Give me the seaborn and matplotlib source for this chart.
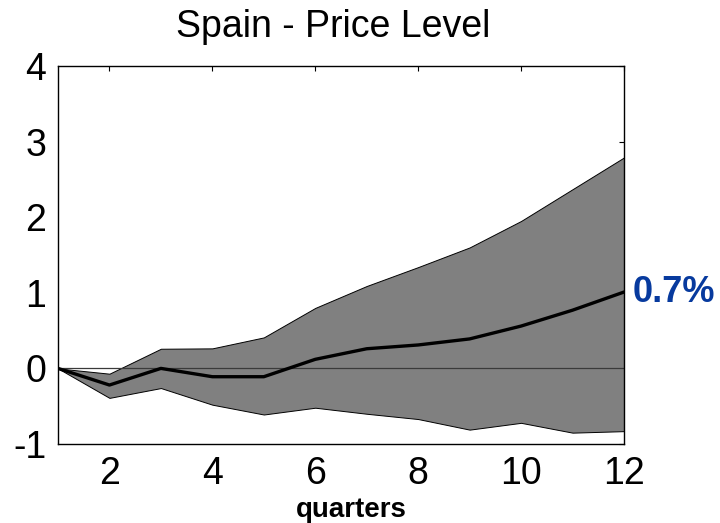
import matplotlib
matplotlib.use("Agg")
import matplotlib.pyplot as plt
import numpy as np
import pandas as pd
import seaborn as sns

# Impulse response of the Spanish price level, in percent, over 12 quarters
quarters = [1, 2, 3, 4, 5, 6, 7, 8, 9, 10, 11, 12]
median = [0.0, -0.22, 0.0, -0.11, -0.11, 0.12, 0.26, 0.31, 0.39, 0.56, 0.77, 1.01]
upper = [0.0, -0.07, 0.26, 0.265, 0.41, 0.80, 1.09, 1.34, 1.60, 1.95, 2.37, 2.79]
lower = [0.0, -0.39, -0.26, -0.48, -0.61, -0.52, -0.60, -0.67, -0.81, -0.72, -0.85, -0.83]

title_text = "Spain - Price Level"
xlabel_text = "quarters"
end_label = "0.7%"
xticks = [2, 4, 6, 8, 10, 12]
yticks = [-1, 0, 1, 2, 3, 4]

df = pd.DataFrame({"quarter": quarters, "median": median,
                   "upper": upper, "lower": lower})

sns.set_style("white")
plt.rcParams["font.family"] = ["Liberation Sans", "DejaVu Sans"]
plt.rcParams["axes.unicode_minus"] = False
plt.rcParams["text.color"] = "black"
plt.rcParams["axes.labelcolor"] = "black"

fig = plt.figure(figsize=(7.2, 5.23), dpi=100)
ax = fig.add_axes([58 / 720, 1 - 444 / 523, (624 - 58) / 720, (444 - 66) / 523])

ax.fill_between(df["quarter"], df["lower"], df["upper"],
                facecolor="#808080", edgecolor="black", linewidth=0.7, zorder=1)
ax.axhline(0, color="#3a3a3a", linewidth=0.9, zorder=2)
sns.lineplot(data=df, x="quarter", y="median", color="black",
             linewidth=2.4, ax=ax, zorder=3)

ax.set_xlim(1, 12)
ax.set_ylim(-1, 4)
ax.set_xticks(xticks)
ax.set_yticks(yticks)
ax.tick_params(direction="in", length=3.6, width=0.8, top=True, right=True,
               labelsize=27, colors="black")
ax.tick_params(axis="y", pad=8.5)
ax.tick_params(axis="x", pad=9)
for s in ax.spines.values():
    s.set_color("black")
    s.set_linewidth(1.0)

ax.set_xlabel(xlabel_text, fontsize=20, fontweight="bold")
ax.xaxis.set_label_coords(0.519, -0.14)
ax.set_ylabel("")
ax.set_title(title_text, fontsize=27, pad=21, x=0.486, color="black")

ax.annotate(end_label, xy=(df["quarter"].iloc[-1], df["median"].iloc[-1]),
            xytext=(6, 0), textcoords="offset points", ha="left", va="center",
            fontsize=26, fontweight="bold", color="#073a9e",
            annotation_clip=False)

fig.savefig("out.png", dpi=100)
